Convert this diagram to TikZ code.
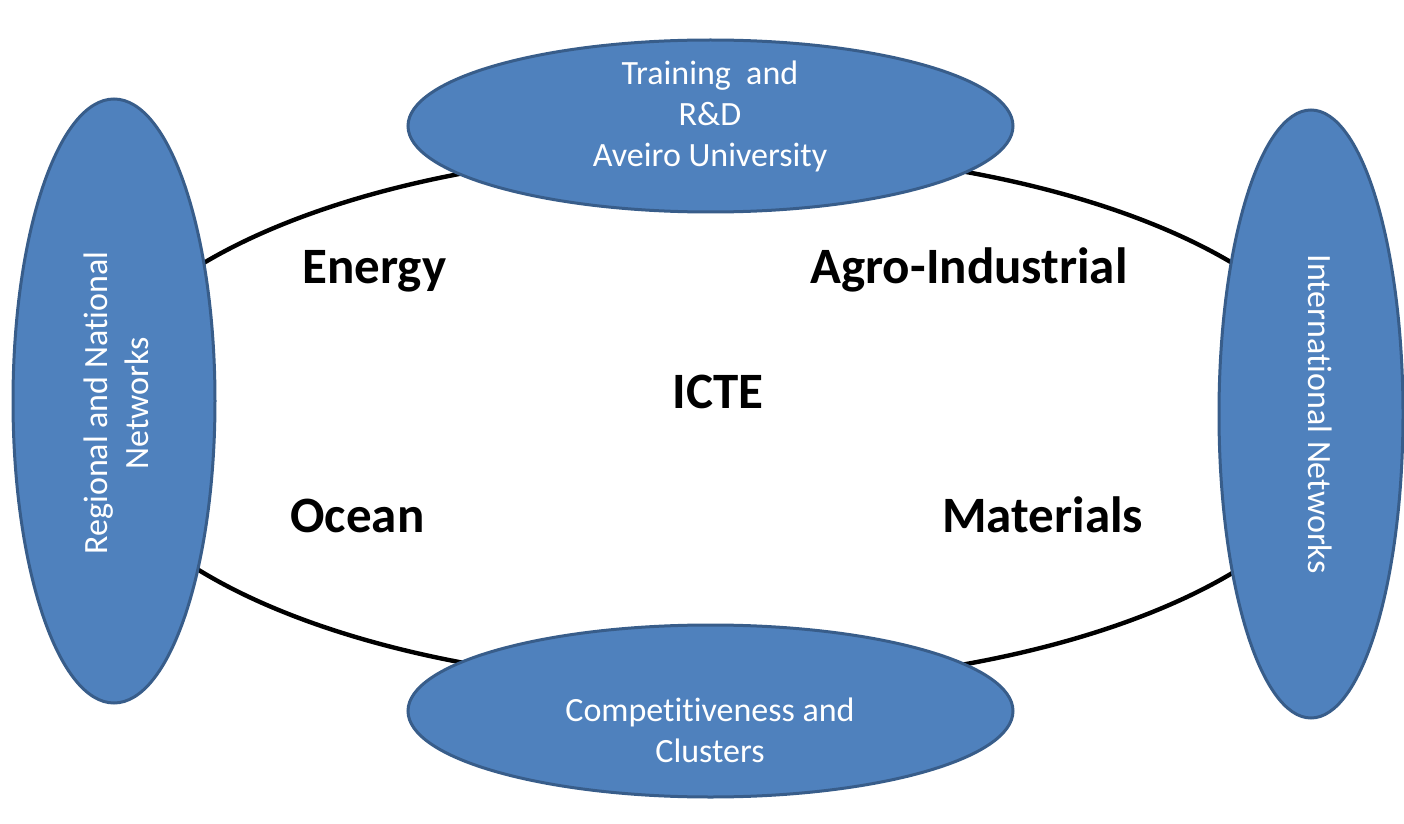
\documentclass[tikz,border=0pt]{standalone}
\usepackage{fontspec}
\setmainfont{Carlito}[Ligatures=NoCommon]
\usepackage{xcolor}
\usetikzlibrary{shapes.geometric}
\definecolor{blobfill}{RGB}{79,129,189}
\definecolor{blobline}{RGB}{56,93,138}

\begin{document}
\begin{tikzpicture}[x=0.5pt,y=-0.5pt,
    blob/.style={ellipse, draw=blobline, line width=1.5pt, fill=blobfill, inner sep=0pt},
    blobtext/.style={text=white, align=center, font=\fontsize{17pt}{20.5pt}\selectfont},
    area/.style={anchor=base west, inner sep=0pt, font=\fontsize{25.5pt}{30pt}\selectfont\bfseries}
  ]
  \useasboundingbox (0,0) rectangle (1404,824);

  % ring
  \node [ellipse, draw=black, line width=2.2pt, inner sep=0pt,
         minimum width=631pt, minimum height=267.5pt] (ring) at (718,418) {};

  % partners
  \node [blob, minimum width=302.5pt, minimum height=86pt] (rd) at (710.5,126) {};
  \node [blob, minimum width=302.5pt, minimum height=86pt] (comp) at (710.5,711) {};
  \node [blob, minimum width=101pt, minimum height=302pt] (nat) at (114,401) {};
  \node [blob, minimum width=92pt, minimum height=304pt] (intl) at (1311,414) {};

  \node [blobtext] (rdtext) at (710,116) {Training~ and\\R\&D\\Aveiro University};
  \node [blobtext] (comptext) at (710,730) {Competitiveness and\\Clusters};
  \node [blobtext, rotate=90] (nattext) at (116,403) {Regional and National\\Networks};
  \node [blobtext, rotate=-90] (intltext) at (1320,414) {International Networks};

  % sectors
  \node [area] (energy) at (302,284) {Energy};
  \node [area] (agro) at (810,284) {Agro-Industrial};
  \node [area] (icte) at (672,408) {ICTE};
  \node [area] (ocean) at (290,532) {Ocean};
  \node [area] (mat) at (942,532) {Materials};
\end{tikzpicture}
\end{document}
